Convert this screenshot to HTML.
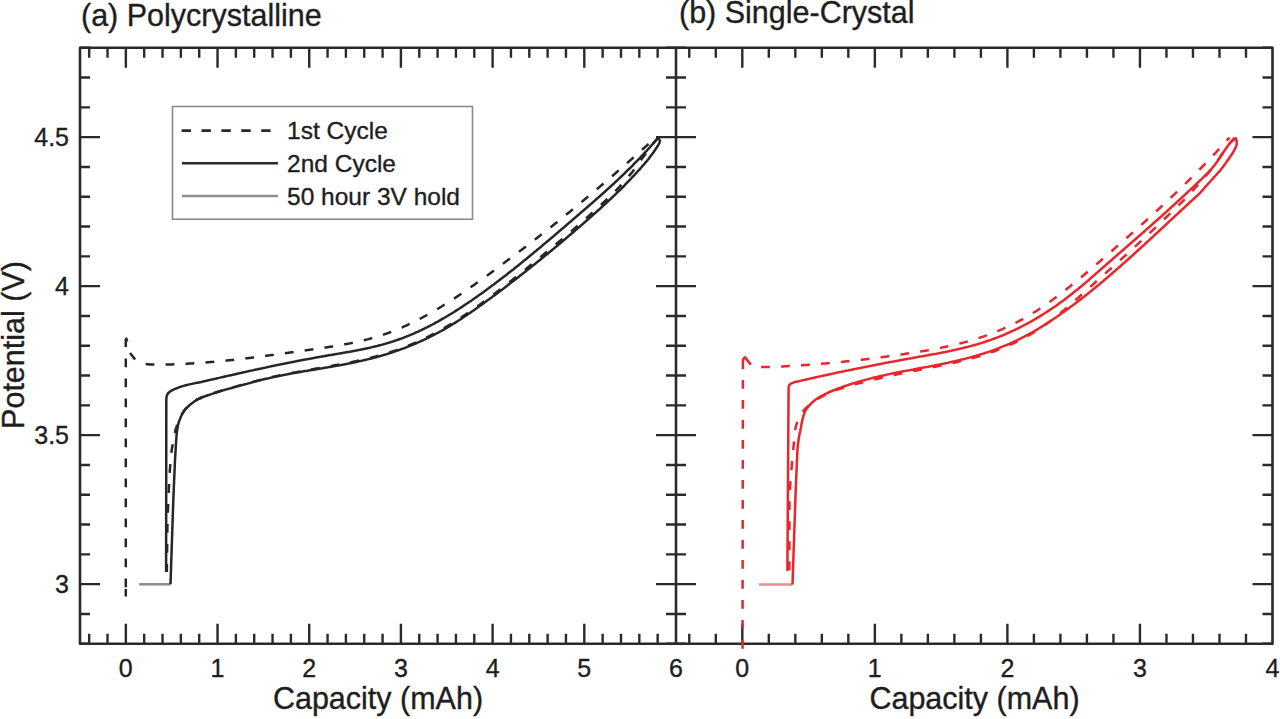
<!DOCTYPE html><html><head><meta charset="utf-8"><style>html,body{margin:0;padding:0;background:#fff;width:1280px;height:719px;overflow:hidden}svg{display:block}text{font-family:"Liberation Sans",sans-serif;fill:#1e1e1e;stroke:#1e1e1e;stroke-width:0.35px}</style></head><body>
<div id="wrap"><svg width="1280" height="719" viewBox="0 0 1280 719">
<path d="M80.0,643.75h10M666.0,643.75h20M1272.5,643.75h-10M80.0,613.95h10M666.0,613.95h20M1272.5,613.95h-10M80.0,584.15h20M656.0,584.15h40M1272.5,584.15h-20M80.0,554.35h10M666.0,554.35h20M1272.5,554.35h-10M80.0,524.55h10M666.0,524.55h20M1272.5,524.55h-10M80.0,494.75h10M666.0,494.75h20M1272.5,494.75h-10M80.0,464.95h10M666.0,464.95h20M1272.5,464.95h-10M80.0,435.15h20M656.0,435.15h40M1272.5,435.15h-20M80.0,405.35h10M666.0,405.35h20M1272.5,405.35h-10M80.0,375.55h10M666.0,375.55h20M1272.5,375.55h-10M80.0,345.75h10M666.0,345.75h20M1272.5,345.75h-10M80.0,315.95h10M666.0,315.95h20M1272.5,315.95h-10M80.0,286.15h20M656.0,286.15h40M1272.5,286.15h-20M80.0,256.35h10M666.0,256.35h20M1272.5,256.35h-10M80.0,226.55h10M666.0,226.55h20M1272.5,226.55h-10M80.0,196.75h10M666.0,196.75h20M1272.5,196.75h-10M80.0,166.95h10M666.0,166.95h20M1272.5,166.95h-10M80.0,137.15h20M656.0,137.15h40M1272.5,137.15h-20M80.0,107.35h10M666.0,107.35h20M1272.5,107.35h-10M80.0,77.55h10M666.0,77.55h20M1272.5,77.55h-10M80.0,47.75h10M666.0,47.75h20M1272.5,47.75h-10M89.17,643.75v-10M89.17,47.75v10M107.51,643.75v-10M107.51,47.75v10M125.85,643.75v-20M125.85,47.75v20M144.19,643.75v-10M144.19,47.75v10M162.53,643.75v-10M162.53,47.75v10M180.86,643.75v-10M180.86,47.75v10M199.20,643.75v-10M199.20,47.75v10M217.54,643.75v-20M217.54,47.75v20M235.88,643.75v-10M235.88,47.75v10M254.22,643.75v-10M254.22,47.75v10M272.55,643.75v-10M272.55,47.75v10M290.89,643.75v-10M290.89,47.75v10M309.23,643.75v-20M309.23,47.75v20M327.57,643.75v-10M327.57,47.75v10M345.91,643.75v-10M345.91,47.75v10M364.24,643.75v-10M364.24,47.75v10M382.58,643.75v-10M382.58,47.75v10M400.92,643.75v-20M400.92,47.75v20M419.26,643.75v-10M419.26,47.75v10M437.60,643.75v-10M437.60,47.75v10M455.93,643.75v-10M455.93,47.75v10M474.27,643.75v-10M474.27,47.75v10M492.61,643.75v-20M492.61,47.75v20M510.95,643.75v-10M510.95,47.75v10M529.29,643.75v-10M529.29,47.75v10M547.62,643.75v-10M547.62,47.75v10M565.96,643.75v-10M565.96,47.75v10M584.30,643.75v-20M584.30,47.75v20M602.64,643.75v-10M602.64,47.75v10M620.98,643.75v-10M620.98,47.75v10M639.31,643.75v-10M639.31,47.75v10M657.65,643.75v-10M657.65,47.75v10M689.28,643.75v-10M689.28,47.75v10M715.79,643.75v-10M715.79,47.75v10M742.30,643.75v-20M742.30,47.75v20M768.81,643.75v-10M768.81,47.75v10M795.32,643.75v-10M795.32,47.75v10M821.83,643.75v-10M821.83,47.75v10M848.34,643.75v-10M848.34,47.75v10M874.85,643.75v-20M874.85,47.75v20M901.36,643.75v-10M901.36,47.75v10M927.87,643.75v-10M927.87,47.75v10M954.38,643.75v-10M954.38,47.75v10M980.89,643.75v-10M980.89,47.75v10M1007.40,643.75v-20M1007.40,47.75v20M1033.91,643.75v-10M1033.91,47.75v10M1060.42,643.75v-10M1060.42,47.75v10M1086.93,643.75v-10M1086.93,47.75v10M1113.44,643.75v-10M1113.44,47.75v10M1139.95,643.75v-20M1139.95,47.75v20M1166.46,643.75v-10M1166.46,47.75v10M1192.97,643.75v-10M1192.97,47.75v10M1219.48,643.75v-10M1219.48,47.75v10M1245.99,643.75v-10M1245.99,47.75v10" stroke="#2a2a2a" stroke-width="2.4" fill="none"/>
<path d="M80.0,47.75H1272.5V643.75H80.0Z M676.0,47.75V643.75" stroke="#2a2a2a" stroke-width="2.6" fill="none" stroke-linejoin="round"/>
<text x="69" y="146.1" font-size="25" text-anchor="end">4.5</text>
<text x="69" y="295.1" font-size="25" text-anchor="end">4</text>
<text x="69" y="444.1" font-size="25" text-anchor="end">3.5</text>
<text x="69" y="593.1" font-size="25" text-anchor="end">3</text>
<text x="125.8" y="677" font-size="25" text-anchor="middle">0</text>
<text x="217.5" y="677" font-size="25" text-anchor="middle">1</text>
<text x="309.2" y="677" font-size="25" text-anchor="middle">2</text>
<text x="400.9" y="677" font-size="25" text-anchor="middle">3</text>
<text x="492.6" y="677" font-size="25" text-anchor="middle">4</text>
<text x="584.3" y="677" font-size="25" text-anchor="middle">5</text>
<text x="676.0" y="677" font-size="25" text-anchor="middle">6</text>
<text x="742.3" y="677" font-size="25" text-anchor="middle">0</text>
<text x="874.8" y="677" font-size="25" text-anchor="middle">1</text>
<text x="1007.4" y="677" font-size="25" text-anchor="middle">2</text>
<text x="1140.0" y="677" font-size="25" text-anchor="middle">3</text>
<text x="1272.5" y="677" font-size="25" text-anchor="middle">4</text>
<text x="378" y="709" font-size="30.5" text-anchor="middle">Capacity (mAh)</text>
<text x="974.5" y="709" font-size="30.5" text-anchor="middle">Capacity (mAh)</text>
<text transform="translate(23.5,345) rotate(-90)" font-size="30.5" text-anchor="middle">Potential (V)</text>
<text x="81" y="26" font-size="30.5">(a) Polycrystalline</text>
<text x="679" y="23" font-size="30.5">(b) Single-Crystal</text>
<rect x="172.5" y="106.5" width="300" height="112.75" fill="#fff" stroke="#8a8a8a" stroke-width="1.6"/>
<path d="M181.6,130.6H272" stroke="#282828" stroke-width="2.6" stroke-dasharray="9.4 10.5"/>
<path d="M182,163.2H278" stroke="#282828" stroke-width="2.6"/>
<path d="M182,196H278" stroke="#8f8f8f" stroke-width="2.6"/>
<text x="287" y="139" font-size="24.5">1st Cycle</text>
<text x="287" y="171.5" font-size="24.5">2nd Cycle</text>
<text x="287" y="204.5" font-size="24.5">50 hour 3V hold</text>
<g fill="none" stroke-linejoin="round" stroke-linecap="butt">
<path d="M139.2,584.3L170.5,584.3" stroke="#8c8c8c" stroke-width="2.5"/>
<path d="M658.3,137.5L656.9,139.1L655.5,140.7L654.0,142.5L652.9,144.0L651.7,145.5L650.4,147.2L649.2,148.9L648.0,150.5L647.0,151.9L645.9,153.3L644.9,154.7L643.8,156.2L642.8,157.6L641.7,159.0L641.5,159.4L640.7,160.5L640.0,161.6L639.2,162.6L638.5,163.7L637.7,164.7L637.0,165.8L636.2,166.8L635.5,167.8L634.7,168.8L634.0,169.8L633.2,170.8L632.5,171.7L631.7,172.7L630.7,173.9L629.7,175.1L628.7,176.4L627.7,177.6L626.7,178.7L625.7,179.9L624.7,181.0L623.7,182.2L622.7,183.3L621.7,184.4L620.7,185.5L619.7,186.5L618.7,187.6L617.7,188.6L616.7,189.7L615.7,190.7L614.7,191.7L613.7,192.7L612.7,193.7L611.7,194.7L610.7,195.7L609.7,196.6L608.7,197.6L607.7,198.6L606.7,199.5L605.7,200.5L604.7,201.4L603.7,202.3L602.7,203.3L601.7,204.2L600.7,205.1L599.7,206.0L598.7,207.0L597.7,207.9L596.7,208.8L595.7,209.7L594.7,210.6L593.7,211.5L592.7,212.4L591.7,213.3L590.7,214.2L589.7,215.1L588.7,216.0L587.7,216.9L586.7,217.8L585.7,218.7L584.7,219.6L583.7,220.4L582.7,221.3L581.7,222.2L580.7,223.1L579.7,223.9L578.7,224.8L577.7,225.7L576.7,226.6L575.7,227.4L574.7,228.3L573.7,229.2L572.7,230.0L571.7,230.9L570.7,231.7L569.7,232.6L568.7,233.4L567.7,234.3L566.7,235.1L565.7,236.0L564.7,236.8L563.7,237.7L562.7,238.5L561.7,239.4L560.7,240.2L559.7,241.1L558.7,241.9L557.7,242.8L556.7,243.6L555.7,244.4L554.7,245.3L553.7,246.1L552.7,246.9L551.7,247.8L550.7,248.6L549.7,249.4L548.7,250.3L547.7,251.1L546.7,251.9L545.7,252.8L544.7,253.6L543.7,254.4L542.7,255.2L541.7,256.1L540.7,256.9L539.7,257.7L538.7,258.5L537.7,259.4L536.7,260.2L535.7,261.0L534.7,261.8L533.7,262.6L532.7,263.5L531.7,264.3L530.7,265.1L529.7,265.9L528.7,266.7L527.7,267.5L526.7,268.4L525.7,269.2L524.7,270.0L523.7,270.8L522.7,271.6L521.7,272.4L520.7,273.2L519.7,274.0L518.7,274.8L517.7,275.6L516.7,276.4L515.7,277.2L514.7,278.0L513.7,278.8L512.7,279.6L511.7,280.4L510.7,281.2L509.7,282.0L508.7,282.8L507.7,283.6L506.7,284.4L505.7,285.2L504.7,285.9L503.7,286.7L502.7,287.5L501.7,288.3L500.7,289.0L499.7,289.8L498.7,290.6L497.7,291.3L496.7,292.1L495.7,292.9L494.7,293.6L493.7,294.4L492.7,295.1L491.7,295.9L490.7,296.6L489.7,297.4L488.7,298.1L487.7,298.9L486.7,299.6L485.7,300.4L484.7,301.1L483.7,301.8L482.7,302.5L481.7,303.3L480.7,304.0L479.7,304.7L478.7,305.4L477.7,306.1L476.7,306.8L475.7,307.6L474.7,308.3L473.7,309.0L472.7,309.7L471.7,310.3L470.7,311.0L469.7,311.7L468.7,312.4L467.7,313.1L466.7,313.8L465.7,314.4L464.7,315.1L463.7,315.8L462.5,316.6L461.2,317.4L460.0,318.2L458.7,319.0L457.5,319.8L456.2,320.6L455.0,321.4L453.7,322.2L452.5,323.0L451.2,323.8L450.0,324.5L448.7,325.3L447.5,326.0L446.2,326.8L445.0,327.5L443.7,328.2L442.5,329.0L441.2,329.7L440.0,330.4L438.7,331.1L437.5,331.8L436.2,332.5L435.0,333.1L433.7,333.8L432.5,334.5L431.2,335.1L430.0,335.8L428.7,336.4L427.5,337.0L426.2,337.7L425.0,338.3L423.7,338.9L422.5,339.5L421.2,340.1L420.0,340.7L418.7,341.2L417.5,341.8L416.2,342.3L415.0,342.9L413.7,343.4L412.5,344.0L411.2,344.5L410.0,345.0L408.7,345.5L407.5,346.0L406.2,346.5L405.0,347.0L403.7,347.5L402.5,347.9L401.2,348.4L400.0,348.8L398.7,349.3L397.5,349.7L396.2,350.2L395.0,350.6L393.7,351.0L392.5,351.4L391.2,351.8L390.0,352.2L388.7,352.6L387.5,353.0L386.2,353.4L385.0,353.8L383.7,354.2L382.5,354.5L381.2,354.9L380.0,355.2L378.7,355.6L377.5,355.9L376.2,356.3L375.0,356.6L373.7,356.9L372.5,357.3L371.2,357.6L370.0,357.9L368.7,358.2L367.5,358.5L366.2,358.8L365.0,359.1L363.7,359.4L362.5,359.7L361.2,360.0L360.0,360.3L358.7,360.6L357.5,360.8L356.2,361.1L355.0,361.4L353.7,361.6L352.5,361.9L351.2,362.2L350.0,362.4L348.7,362.7L347.5,362.9L346.2,363.2L345.0,363.4L343.7,363.7L342.5,363.9L341.2,364.1L340.0,364.4L338.7,364.6L337.5,364.9L336.2,365.1L335.0,365.3L333.7,365.5L332.5,365.8L331.2,366.0L330.0,366.2L328.7,366.4L327.5,366.7L326.2,366.9L325.0,367.1L323.7,367.3L322.5,367.5L321.2,367.8L320.0,368.0L318.7,368.2L317.5,368.4L316.2,368.6L315.0,368.8L313.7,369.1L312.5,369.3L311.2,369.5L310.0,369.7L308.7,369.9L307.5,370.2L306.2,370.4L305.0,370.6L303.7,370.8L302.5,371.0L301.2,371.3L300.0,371.5L298.7,371.7L297.5,371.9L296.2,372.2L295.0,372.4L293.7,372.6L292.5,372.9L291.2,373.1L290.0,373.3L288.7,373.6L287.5,373.8L286.2,374.1L285.0,374.3L283.7,374.6L282.5,374.8L281.2,375.1L280.0,375.3L278.7,375.6L277.5,375.9L276.2,376.1L275.0,376.4L273.7,376.7L272.5,377.0L271.2,377.2L270.0,377.5L268.7,377.8L267.5,378.1L266.2,378.4L265.0,378.7L263.7,379.0L262.5,379.3L261.2,379.6L260.0,380.0L258.7,380.3L257.5,380.6L256.2,381.0L255.0,381.3L253.7,381.6L252.5,382.0L251.2,382.3L250.0,382.7L248.4,383.1L246.8,383.6L245.2,384.0L243.6,384.4L242.0,384.8L240.3,385.3L238.7,385.7L237.1,386.1L235.5,386.6L233.9,387.0L232.3,387.4L230.8,387.9L229.3,388.3L227.8,388.7L226.4,389.1L225.0,389.5L223.1,390.1L221.3,390.6L219.5,391.2L217.8,391.7L216.1,392.3L214.5,392.8L212.9,393.3L211.4,393.8L210.0,394.3L207.8,395.0L205.8,395.7L203.9,396.4L202.0,397.2L200.2,398.0L198.4,398.8L196.7,399.7L195.0,400.7L193.4,401.7L191.8,402.9L190.4,404.0L189.0,405.2L186.9,407.2L185.0,409.5L184.0,411.0L182.9,412.6L181.9,414.4L180.9,416.2L180.0,418.0L179.3,419.6L178.5,421.2L177.9,422.9L177.2,424.5L176.7,426.3L176.1,428.0L175.6,429.6L175.2,431.3L174.9,433.0L174.5,434.8L174.2,436.5L173.9,438.3L173.5,440.0L171.7,450.0L170.0,468.0L168.9,488.0L167.5,520.0L166.8,572.0" stroke="#262626" stroke-width="2.5" stroke-dasharray="8.8 11.2"/>
<path d="M145.6,364.0L150.0,364.4L152.5,364.5L155.0,364.6L156.2,364.6L157.5,364.6L158.7,364.6L160.0,364.6L161.2,364.6L162.5,364.6L163.7,364.5L165.0,364.5L166.2,364.5L167.5,364.5L168.7,364.5L170.0,364.4L171.2,364.4L172.5,364.4L173.7,364.3L175.0,364.3L176.2,364.2L177.5,364.2L178.7,364.1L180.0,364.1L181.2,364.0L182.5,364.0L183.7,363.9L185.0,363.8L186.2,363.8L187.5,363.7L188.7,363.6L190.0,363.6L191.2,363.5L192.5,363.4L193.7,363.3L195.0,363.3L196.2,363.2L197.5,363.1L198.7,363.0L200.0,362.9L201.2,362.8L202.5,362.7L203.7,362.6L205.0,362.5L206.2,362.4L207.5,362.3L208.7,362.2L210.0,362.1L211.2,362.0L212.5,361.9L213.7,361.8L215.0,361.7L216.2,361.6L217.5,361.4L218.7,361.3L220.0,361.2L221.2,361.1L222.5,361.0L223.7,360.8L225.0,360.7L226.2,360.6L227.5,360.4L228.7,360.3L230.0,360.2L231.2,360.0L232.5,359.9L233.7,359.8L235.0,359.6L236.2,359.5L237.5,359.3L238.7,359.2L240.0,359.1L241.2,358.9L242.5,358.8L243.7,358.6L245.0,358.5L246.2,358.3L247.5,358.2L248.7,358.0L250.0,357.9L251.2,357.7L252.5,357.5L253.7,357.4L255.0,357.2L256.2,357.1L257.4,356.9L258.7,356.8L259.9,356.6L261.2,356.4L262.4,356.3L263.7,356.1L264.9,355.9L266.2,355.8L267.4,355.6L268.7,355.4L269.9,355.3L271.2,355.1L272.4,354.9L273.7,354.8L274.9,354.6L276.2,354.4L277.4,354.3L278.7,354.1L279.9,353.9L281.2,353.7L282.4,353.6L283.7,353.4L284.9,353.2L286.2,353.0L287.4,352.9L288.7,352.7L289.9,352.5L291.2,352.3L292.4,352.2L293.7,352.0L294.9,351.8L296.2,351.6L297.4,351.5L298.7,351.3L299.9,351.1L301.2,350.9L302.4,350.8L303.7,350.6L304.9,350.4L306.2,350.2L307.4,350.1L308.7,349.9L309.9,349.7L311.2,349.6L312.4,349.4L313.7,349.2L314.9,349.0L316.2,348.9L317.4,348.7L318.7,348.5L319.9,348.3L321.2,348.1L322.4,348.0L323.7,347.8L324.9,347.6L326.2,347.4L327.4,347.2L328.7,347.0L329.9,346.8L331.2,346.7L332.4,346.5L333.7,346.3L334.9,346.1L336.2,345.9L337.4,345.6L338.7,345.4L339.9,345.2L341.2,345.0L342.4,344.8L343.7,344.6L344.9,344.3L346.2,344.1L347.4,343.9L348.7,343.6L349.9,343.4L351.2,343.1L352.4,342.9L353.7,342.6L354.9,342.4L356.1,342.1L357.4,341.8L358.6,341.5L359.9,341.2L361.1,341.0L362.4,340.7L363.6,340.4L364.9,340.0L366.1,339.7L367.4,339.4L368.6,339.1L369.9,338.7L371.1,338.4L372.4,338.1L373.6,337.7L374.9,337.3L376.1,337.0L377.4,336.6L378.6,336.2L379.9,335.8L381.1,335.4L382.4,335.0L383.6,334.6L384.9,334.1L386.1,333.7L387.4,333.3L388.6,332.8L389.9,332.3L391.1,331.9L392.4,331.4L393.6,330.9L394.9,330.4L396.1,329.9L397.4,329.4L398.6,328.9L399.9,328.3L401.1,327.8L402.4,327.3L403.6,326.7L404.9,326.1L406.1,325.6L407.4,325.0L408.6,324.4L409.9,323.8L411.1,323.2L412.4,322.6L413.6,322.0L414.9,321.4L416.1,320.8L417.4,320.1L418.6,319.5L419.9,318.8L421.1,318.2L422.4,317.5L423.6,316.8L424.9,316.2L426.1,315.5L427.4,314.8L428.6,314.1L429.9,313.4L431.1,312.7L432.4,312.0L433.6,311.2L434.9,310.5L436.1,309.8L437.4,309.0L438.6,308.3L439.9,307.5L441.1,306.8L442.4,306.0L443.6,305.2L444.9,304.5L446.1,303.7L447.4,302.9L448.6,302.1L449.9,301.3L451.1,300.5L452.4,299.7L453.6,298.9L454.9,298.1L456.1,297.2L457.3,296.4L458.3,295.7L459.3,295.1L460.3,294.4L461.3,293.7L462.3,293.0L463.3,292.4L464.3,291.7L465.3,291.0L466.3,290.3L467.3,289.6L468.3,288.9L469.3,288.2L470.3,287.5L471.3,286.8L472.3,286.1L473.3,285.4L474.3,284.7L475.3,284.0L476.3,283.3L477.3,282.6L478.3,281.9L479.3,281.2L480.3,280.5L481.3,279.7L482.3,279.0L483.3,278.3L484.3,277.6L485.3,276.8L486.3,276.1L487.3,275.4L488.3,274.7L489.3,273.9L490.3,273.2L491.3,272.5L492.3,271.7L493.3,271.0L494.3,270.2L495.3,269.5L496.3,268.8L497.3,268.0L498.3,267.3L499.3,266.5L500.3,265.8L501.3,265.0L502.3,264.3L503.3,263.5L504.3,262.8L505.3,262.1L506.3,261.3L507.3,260.6L508.3,259.8L509.3,259.1L510.3,258.3L511.3,257.5L512.3,256.8L513.3,256.0L514.3,255.3L515.3,254.5L516.3,253.8L517.3,253.0L518.3,252.3L519.3,251.5L520.3,250.7L521.3,250.0L522.3,249.2L523.3,248.5L524.3,247.7L525.3,246.9L526.3,246.2L527.3,245.4L528.3,244.6L529.3,243.9L530.3,243.1L531.3,242.3L532.3,241.6L533.3,240.8L534.3,240.0L535.3,239.2L536.3,238.5L537.3,237.7L538.3,236.9L539.3,236.1L540.3,235.4L541.3,234.6L542.3,233.8L543.3,233.0L544.3,232.2L545.3,231.4L546.3,230.6L547.3,229.9L548.3,229.1L549.3,228.3L550.3,227.5L551.3,226.7L552.3,225.9L553.3,225.1L554.3,224.3L555.3,223.5L556.3,222.7L557.3,221.9L558.3,221.1L559.3,220.3L560.3,219.5L561.3,218.7L562.3,217.9L563.3,217.1L564.3,216.2L565.3,215.4L566.3,214.6L567.3,213.8L568.3,213.0L569.3,212.2L570.3,211.4L571.3,210.5L572.3,209.7L573.3,208.9L574.3,208.1L575.3,207.2L576.3,206.4L577.3,205.6L578.3,204.8L579.3,203.9L580.3,203.1L581.3,202.3L582.3,201.4L583.3,200.6L584.3,199.8L585.3,198.9L586.3,198.1L587.3,197.3L588.3,196.4L589.3,195.6L590.3,194.7L591.3,193.9L592.3,193.1L593.3,192.2L594.3,191.4L595.3,190.5L596.3,189.7L597.3,188.8L598.3,188.0L599.3,187.1L600.3,186.3L601.3,185.4L602.3,184.6L603.3,183.7L604.3,182.8L605.3,182.0L606.3,181.1L607.3,180.3L608.3,179.4L609.3,178.5L610.3,177.7L611.3,176.8L612.3,176.0L613.3,175.1L614.3,174.2L615.3,173.4L616.3,172.5L617.3,171.6L618.3,170.7L619.3,169.9L620.3,169.0L621.3,168.1L622.3,167.3L623.3,166.4L624.3,165.5L625.3,164.6L626.3,163.8L627.3,162.9L628.3,162.0L629.3,161.1L630.3,160.2L631.3,159.4L632.3,158.5L633.3,157.6L634.3,156.7L635.3,155.8L636.3,154.9L637.3,154.1L638.3,153.2L639.3,152.3L640.3,151.4L641.3,150.5L642.3,149.6L643.3,148.7L644.3,147.8L645.3,146.9L646.3,146.0L647.3,145.1L648.3,144.3L649.3,143.4L650.3,142.5L651.3,141.6L652.3,140.7L653.3,139.8L654.3,138.9L655.3,138.0L656.0,137.3" stroke="#262626" stroke-width="2.5" stroke-dasharray="8.8 11.2"/>
<path d="M125.8,358.4L125.8,597.0" stroke="#262626" stroke-width="2.5" stroke-dasharray="8.8 11.2"/>
<path d="M125.8,347.0L125.8,339.5L126.3,338.6L127.2,341.5 M130.0,353.0L135.2,359.6 M125.8,589.0L125.8,596.5" stroke="#262626" stroke-width="2.5"/>
<path d="M166.1,572.0L166.3,401.0L166.4,398.4L166.7,396.0L168.0,393.3L170.5,391.2L174.0,389.4L176.4,388.3L179.0,387.3L181.2,386.6L183.6,385.9L186.0,385.2L188.3,384.6L190.7,384.1L193.0,383.6L195.3,383.1L197.5,382.7L200.0,382.2L201.5,381.9L203.2,381.5L204.9,381.1L206.7,380.7L208.4,380.3L210.2,379.9L212.0,379.5L213.8,379.1L215.6,378.7L217.3,378.3L219.1,377.9L221.0,377.4L222.9,377.0L225.0,376.5L226.3,376.2L227.7,375.9L229.2,375.6L230.7,375.2L232.2,374.9L233.8,374.5L235.4,374.2L237.0,373.8L238.6,373.4L240.3,373.1L241.9,372.7L243.6,372.3L245.2,372.0L246.8,371.6L248.4,371.3L250.0,370.9L251.2,370.6L252.5,370.4L253.7,370.1L255.0,369.8L256.2,369.5L257.5,369.3L258.7,369.0L260.0,368.7L261.2,368.5L262.5,368.2L263.7,367.9L265.0,367.7L266.2,367.4L267.5,367.1L268.7,366.9L270.0,366.6L271.2,366.3L272.5,366.1L273.7,365.8L275.0,365.6L276.2,365.3L277.5,365.0L278.7,364.8L280.0,364.5L281.2,364.3L282.5,364.0L283.7,363.8L285.0,363.5L286.2,363.3L287.5,363.0L288.7,362.8L290.0,362.5L291.2,362.3L292.5,362.0L293.7,361.8L295.0,361.5L296.2,361.3L297.5,361.0L298.7,360.8L300.0,360.6L301.2,360.3L302.5,360.1L303.7,359.8L305.0,359.6L306.2,359.4L307.5,359.1L308.7,358.9L310.0,358.7L311.2,358.4L312.5,358.2L313.7,358.0L315.0,357.8L316.2,357.5L317.5,357.3L318.7,357.1L320.0,356.9L321.2,356.6L322.5,356.4L323.7,356.2L325.0,356.0L326.2,355.8L327.5,355.6L328.7,355.3L330.0,355.1L331.2,354.9L332.5,354.7L333.7,354.5L335.0,354.3L336.2,354.1L337.5,353.9L338.7,353.6L340.0,353.4L341.2,353.2L342.5,353.0L343.7,352.8L345.0,352.6L346.2,352.3L347.5,352.1L348.7,351.9L350.0,351.7L351.2,351.5L352.4,351.2L353.7,351.0L354.9,350.8L356.2,350.5L357.4,350.3L358.7,350.0L359.9,349.8L361.2,349.5L362.4,349.3L363.7,349.0L364.9,348.8L366.2,348.5L367.4,348.2L368.7,347.9L369.9,347.7L371.2,347.4L372.4,347.1L373.7,346.8L374.9,346.5L376.2,346.2L377.4,345.9L378.7,345.5L379.9,345.2L381.2,344.9L382.4,344.6L383.7,344.2L384.9,343.9L386.2,343.5L387.4,343.1L388.7,342.8L389.9,342.4L391.2,342.0L392.4,341.6L393.7,341.2L394.9,340.8L396.2,340.4L397.4,339.9L398.7,339.5L399.9,339.0L401.2,338.6L402.4,338.1L403.7,337.7L404.9,337.2L406.2,336.7L407.4,336.2L408.7,335.7L409.9,335.2L411.2,334.6L412.4,334.1L413.7,333.6L414.9,333.0L416.2,332.4L417.4,331.9L418.7,331.3L419.9,330.7L421.2,330.1L422.4,329.5L423.7,328.9L424.9,328.3L426.2,327.7L427.4,327.1L428.7,326.4L429.9,325.8L431.2,325.1L432.4,324.5L433.7,323.8L434.9,323.1L436.2,322.4L437.4,321.8L438.7,321.1L439.9,320.4L441.2,319.6L442.4,318.9L443.7,318.2L444.9,317.5L446.2,316.7L447.4,316.0L448.7,315.2L449.9,314.5L451.2,313.7L452.4,313.0L453.7,312.2L454.9,311.4L456.1,310.6L457.4,309.8L458.6,309.0L459.9,308.2L461.1,307.4L462.4,306.6L463.6,305.8L464.9,304.9L465.9,304.3L466.9,303.6L467.9,302.9L468.9,302.3L469.9,301.6L470.9,300.9L471.9,300.2L472.9,299.5L473.9,298.8L474.9,298.1L475.9,297.4L476.9,296.7L477.9,296.0L478.9,295.3L479.9,294.6L480.9,293.9L481.9,293.2L482.9,292.5L483.9,291.7L484.9,291.0L485.9,290.3L486.9,289.5L487.9,288.8L488.9,288.1L489.9,287.3L490.9,286.6L491.9,285.8L492.9,285.1L493.9,284.4L494.9,283.6L495.9,282.8L496.9,282.1L497.9,281.3L498.9,280.6L499.9,279.8L500.9,279.0L501.9,278.3L502.9,277.5L503.9,276.7L504.9,275.9L505.9,275.2L506.9,274.4L507.9,273.6L508.9,272.8L509.9,272.0L510.9,271.2L511.9,270.4L512.9,269.7L513.9,268.9L514.9,268.1L515.9,267.3L516.9,266.5L517.9,265.7L518.9,264.9L519.9,264.1L520.9,263.2L521.9,262.4L522.9,261.6L523.9,260.8L524.9,260.0L525.9,259.2L526.9,258.4L527.9,257.6L528.9,256.7L529.9,255.9L530.9,255.1L531.9,254.3L532.9,253.5L533.9,252.6L534.9,251.8L535.9,251.0L536.9,250.1L537.9,249.3L538.9,248.5L539.9,247.7L540.9,246.8L541.9,246.0L542.9,245.1L543.9,244.3L544.9,243.5L545.9,242.6L546.9,241.8L547.9,240.9L548.9,240.1L549.9,239.3L550.9,238.4L551.9,237.6L552.9,236.7L553.9,235.9L554.9,235.0L555.9,234.2L556.8,233.3L557.8,232.5L558.8,231.6L559.8,230.8L560.8,229.9L561.8,229.1L562.8,228.2L563.8,227.4L564.8,226.5L565.8,225.7L566.8,224.8L567.8,223.9L568.8,223.1L569.8,222.2L570.8,221.4L571.8,220.5L572.8,219.6L573.8,218.8L574.8,217.9L575.8,217.1L576.8,216.2L577.8,215.3L578.8,214.5L579.8,213.6L580.8,212.8L581.8,211.9L582.8,211.0L583.8,210.2L584.8,209.3L585.8,208.4L586.8,207.6L587.8,206.7L588.8,205.8L589.8,205.0L590.8,204.1L591.8,203.2L592.8,202.4L593.8,201.5L594.8,200.6L595.8,199.7L596.8,198.8L597.8,198.0L598.8,197.1L599.8,196.2L600.8,195.3L601.8,194.4L602.8,193.5L603.8,192.6L604.8,191.7L605.8,190.8L606.8,189.9L607.8,189.0L608.8,188.1L609.8,187.2L610.8,186.3L611.8,185.4L612.8,184.5L613.8,183.6L614.8,182.6L615.8,181.7L616.8,180.8L617.8,179.8L618.8,178.9L619.8,177.9L620.8,177.0L621.8,176.0L622.8,175.1L623.8,174.1L624.8,173.2L625.8,172.2L626.8,171.2L627.8,170.2L628.8,169.2L629.8,168.3L630.8,167.3L631.8,166.3L632.8,165.3L633.8,164.2L634.8,163.2L635.8,162.2L636.8,161.2L637.8,160.1L638.8,159.1L639.8,158.1L640.8,157.0L641.8,156.0L642.8,154.9L643.8,153.8L644.8,152.7L645.8,151.7L646.8,150.6L647.8,149.5L648.8,148.4L649.8,147.3L650.8,146.1L651.8,145.0L652.8,143.9L653.8,142.7L654.8,141.6L655.8,140.4L656.8,139.3L657.8,138.1L658.3,137.5" stroke="#262626" stroke-width="2.5"/>
<path d="M658.3,137.5L660.0,140.8L659.5,142.8L658.2,145.1L656.7,147.5L655.9,148.8L654.9,150.2L653.9,151.7L652.8,153.2L651.6,154.7L650.5,156.2L649.4,157.7L648.3,159.2L647.6,160.1L646.6,161.3L645.6,162.4L644.6,163.6L643.6,164.8L642.6,165.9L641.6,167.0L640.6,168.2L639.6,169.3L638.6,170.4L637.6,171.5L636.6,172.6L635.6,173.7L634.6,174.8L633.6,175.9L632.6,176.9L631.6,178.0L630.6,179.1L629.6,180.1L628.6,181.2L627.6,182.2L626.6,183.2L625.6,184.2L624.6,185.3L623.6,186.3L622.6,187.3L621.6,188.3L620.6,189.3L619.6,190.3L618.6,191.2L617.6,192.2L616.6,193.2L615.6,194.2L614.6,195.1L613.6,196.1L612.6,197.0L611.6,198.0L610.6,198.9L609.6,199.9L608.6,200.8L607.6,201.7L606.6,202.7L605.6,203.6L604.6,204.5L603.6,205.4L602.6,206.3L601.6,207.2L600.6,208.2L599.6,209.1L598.6,210.0L597.6,210.9L596.6,211.8L595.6,212.6L594.6,213.5L593.6,214.4L592.6,215.3L591.6,216.2L590.6,217.1L589.6,218.0L588.6,218.8L587.6,219.7L586.6,220.6L585.6,221.5L584.6,222.3L583.6,223.2L582.6,224.1L581.6,225.0L580.6,225.8L579.6,226.7L578.6,227.6L577.6,228.4L576.6,229.3L575.6,230.1L574.6,231.0L573.6,231.9L572.6,232.7L571.6,233.6L570.6,234.4L569.6,235.3L568.6,236.1L567.6,237.0L566.6,237.8L565.6,238.7L564.6,239.5L563.6,240.4L562.6,241.2L561.6,242.1L560.6,242.9L559.6,243.7L558.6,244.6L557.6,245.4L556.6,246.2L555.6,247.1L554.6,247.9L553.6,248.7L552.6,249.6L551.6,250.4L550.6,251.2L549.6,252.0L548.6,252.9L547.6,253.7L546.6,254.5L545.6,255.3L544.6,256.1L543.6,257.0L542.6,257.8L541.6,258.6L540.6,259.4L539.6,260.2L538.6,261.0L537.6,261.8L536.6,262.6L535.6,263.4L534.6,264.2L533.6,265.0L532.6,265.8L531.6,266.6L530.6,267.4L529.6,268.2L528.6,269.0L527.6,269.8L526.6,270.6L525.6,271.4L524.6,272.2L523.6,273.0L522.6,273.8L521.6,274.5L520.6,275.3L519.6,276.1L518.6,276.9L517.6,277.7L516.6,278.4L515.6,279.2L514.6,280.0L513.6,280.8L512.6,281.5L511.6,282.3L510.6,283.1L509.6,283.8L508.6,284.6L507.6,285.4L506.6,286.1L505.6,286.9L504.6,287.7L503.6,288.4L502.6,289.2L501.6,289.9L500.6,290.7L499.6,291.4L498.6,292.2L497.6,292.9L496.6,293.7L495.6,294.4L494.6,295.2L493.6,295.9L492.6,296.6L491.6,297.4L490.6,298.1L489.6,298.9L488.6,299.6L487.6,300.3L486.6,301.1L485.6,301.8L484.6,302.5L483.6,303.2L482.6,304.0L481.6,304.7L480.6,305.4L479.6,306.1L478.6,306.8L477.6,307.6L476.6,308.3L475.6,309.0L474.6,309.7L473.6,310.4L472.6,311.1L471.6,311.8L470.6,312.5L469.6,313.2L468.6,313.8L467.6,314.5L466.6,315.2L465.6,315.9L464.6,316.5L463.6,317.2L462.4,318.0L461.1,318.9L459.9,319.7L458.6,320.5L457.4,321.3L456.1,322.1L454.9,322.9L453.6,323.6L452.4,324.4L451.1,325.2L449.9,325.9L448.7,326.7L447.4,327.4L446.2,328.1L444.9,328.9L443.7,329.6L442.4,330.3L441.2,331.0L439.9,331.7L438.7,332.3L437.4,333.0L436.2,333.7L434.9,334.3L433.7,335.0L432.4,335.6L431.2,336.2L429.9,336.9L428.7,337.5L427.4,338.1L426.2,338.7L424.9,339.3L423.7,339.9L422.4,340.5L421.2,341.0L419.9,341.6L418.7,342.2L417.4,342.7L416.2,343.3L414.9,343.8L413.7,344.3L412.4,344.8L411.2,345.4L409.9,345.9L408.7,346.4L407.4,346.9L406.2,347.4L404.9,347.8L403.7,348.3L402.4,348.8L401.2,349.2L399.9,349.7L398.7,350.1L397.4,350.6L396.2,351.0L394.9,351.4L393.7,351.9L392.4,352.3L391.2,352.7L389.9,353.1L388.7,353.5L387.4,353.9L386.2,354.3L384.9,354.7L383.7,355.0L382.4,355.4L381.2,355.8L379.9,356.1L378.7,356.5L377.4,356.8L376.2,357.2L374.9,357.5L373.7,357.8L372.4,358.2L371.2,358.5L369.9,358.8L368.7,359.1L367.4,359.4L366.2,359.7L364.9,360.0L363.7,360.3L362.4,360.6L361.2,360.9L359.9,361.1L358.7,361.4L357.4,361.7L356.2,362.0L354.9,362.2L353.7,362.5L352.4,362.7L351.2,363.0L349.9,363.3L348.7,363.5L347.5,363.7L346.2,364.0L345.0,364.2L343.7,364.5L342.5,364.7L341.2,364.9L340.0,365.2L338.7,365.4L337.5,365.6L336.2,365.8L335.0,366.1L333.7,366.3L332.5,366.5L331.2,366.7L330.0,366.9L328.7,367.1L327.5,367.4L326.2,367.6L325.0,367.8L323.7,368.0L322.5,368.2L321.2,368.4L320.0,368.6L318.7,368.8L317.5,369.0L316.2,369.2L315.0,369.5L313.7,369.7L312.5,369.9L311.2,370.1L310.0,370.3L308.7,370.5L307.5,370.7L306.2,370.9L305.0,371.1L303.7,371.3L302.5,371.6L301.2,371.8L300.0,372.0L298.7,372.2L297.5,372.4L296.2,372.6L295.0,372.9L293.7,373.1L292.5,373.3L291.2,373.6L290.0,373.8L288.7,374.0L287.5,374.3L286.2,374.5L285.0,374.7L283.7,375.0L282.5,375.2L281.2,375.5L280.0,375.7L278.7,376.0L277.5,376.2L276.2,376.5L275.0,376.8L273.7,377.0L272.5,377.3L271.2,377.6L270.0,377.9L268.7,378.2L267.5,378.4L266.2,378.7L265.0,379.0L263.7,379.3L262.5,379.6L261.2,380.0L260.0,380.3L258.7,380.6L257.5,380.9L256.2,381.3L255.0,381.6L253.7,381.9L252.5,382.3L251.2,382.6L250.0,383.0L248.4,383.4L246.8,383.9L245.2,384.3L243.6,384.7L242.0,385.1L240.3,385.6L238.7,386.0L237.1,386.4L235.5,386.9L233.9,387.3L232.3,387.7L230.8,388.2L229.3,388.6L227.8,389.0L226.4,389.4L225.0,389.8L223.1,390.4L221.3,390.9L219.5,391.5L217.8,392.0L216.1,392.6L214.5,393.1L212.9,393.6L211.4,394.1L210.0,394.6L207.8,395.3L205.8,396.0L203.9,396.7L202.0,397.5L200.2,398.3L198.4,399.1L196.7,400.0L195.0,401.0L193.0,402.4L191.0,403.9L189.2,405.5L187.5,407.1L185.8,408.8L184.3,410.6L183.0,412.6L181.9,414.6L180.9,416.8L180.2,418.5L179.5,420.3L178.8,422.1L178.3,424.0L177.8,426.0L177.5,428.0L177.2,430.0L176.9,432.0L176.7,434.0L176.5,436.0L176.4,438.0L176.2,440.0L175.0,460.0L173.3,500.0L170.5,584.3" stroke="#262626" stroke-width="2.5"/>
</g>
<g fill="none" stroke-linejoin="round" stroke-linecap="butt">
<path d="M759.0,584.5L792.5,584.5" stroke="#f08a8c" stroke-width="2.5"/>
<path d="M1236.0,138.5L1234.3,139.6L1232.7,140.6L1231.0,142.0L1229.8,143.2L1228.6,144.6L1227.5,146.2L1226.3,147.8L1225.1,149.4L1224.0,151.0L1223.0,152.5L1222.0,154.0L1221.0,155.5L1220.0,157.0L1219.0,158.5L1218.0,160.0L1217.0,161.5L1215.9,163.0L1214.8,164.5L1213.7,166.0L1212.6,167.5L1211.5,169.0L1210.3,170.5L1209.1,172.0L1207.9,173.5L1206.6,175.0L1205.3,176.5L1204.0,178.0L1202.8,179.4L1201.5,180.8L1200.2,182.3L1198.9,183.7L1197.6,185.2L1196.3,186.6L1195.0,188.0L1193.8,189.3L1192.7,190.6L1191.6,191.9L1190.4,193.2L1189.3,194.5L1188.2,195.8L1187.0,197.0L1185.7,198.4L1184.3,199.7L1183.0,201.0L1181.6,202.3L1180.3,203.6L1178.9,204.9L1177.9,205.9L1176.9,206.8L1175.9,207.8L1174.9,208.8L1173.9,209.8L1172.9,210.7L1171.9,211.7L1170.9,212.7L1169.9,213.6L1168.9,214.6L1167.9,215.6L1166.9,216.5L1165.9,217.5L1164.9,218.5L1163.9,219.4L1162.9,220.4L1161.9,221.3L1160.9,222.3L1159.9,223.3L1158.9,224.2L1157.9,225.2L1156.9,226.1L1155.9,227.1L1154.9,228.1L1153.9,229.0L1152.9,230.0L1151.9,230.9L1150.9,231.9L1149.9,232.8L1148.9,233.7L1147.9,234.7L1146.9,235.6L1145.9,236.6L1144.9,237.5L1143.9,238.4L1142.9,239.4L1141.9,240.3L1140.9,241.2L1139.9,242.2L1138.9,243.1L1137.9,244.0L1136.9,244.9L1135.9,245.9L1134.9,246.8L1133.9,247.7L1132.9,248.6L1131.9,249.5L1130.9,250.5L1129.9,251.4L1128.9,252.3L1127.9,253.2L1126.9,254.1L1125.9,255.0L1124.9,255.9L1123.9,256.8L1122.9,257.7L1121.9,258.6L1120.9,259.5L1119.9,260.4L1118.9,261.3L1117.9,262.2L1116.9,263.1L1115.9,264.0L1114.9,264.9L1113.9,265.8L1112.9,266.7L1111.9,267.6L1110.9,268.5L1109.9,269.4L1108.9,270.3L1107.9,271.1L1106.9,272.0L1105.9,272.9L1104.9,273.8L1103.9,274.7L1102.9,275.6L1101.9,276.5L1100.9,277.4L1099.9,278.3L1098.9,279.2L1097.9,280.0L1096.9,280.9L1095.9,281.8L1094.9,282.7L1093.9,283.6L1092.9,284.5L1091.9,285.4L1090.9,286.3L1089.9,287.2L1088.9,288.1L1087.9,289.0L1086.9,289.9L1085.9,290.8L1084.9,291.7L1083.9,292.6L1082.9,293.5L1081.9,294.4L1080.9,295.3L1079.9,296.2L1078.9,297.1L1077.9,298.0L1076.9,298.9L1075.9,299.8L1074.9,300.6L1073.9,301.5L1072.9,302.4L1071.9,303.3L1070.9,304.2L1069.9,305.0L1068.9,305.9L1067.9,306.8L1066.9,307.6L1065.9,308.5L1064.9,309.3L1063.9,310.2L1062.9,311.0L1061.9,311.8L1060.9,312.7L1059.9,313.5L1058.9,314.3L1057.9,315.1L1056.9,315.9L1055.9,316.7L1054.9,317.5L1053.9,318.3L1052.9,319.1L1051.9,319.8L1050.9,320.6L1049.9,321.4L1048.9,322.1L1047.9,322.8L1046.9,323.6L1045.9,324.3L1044.9,325.0L1043.9,325.7L1042.9,326.4L1041.9,327.1L1040.9,327.8L1039.9,328.4L1038.7,329.2L1037.4,330.1L1036.2,330.8L1034.9,331.6L1033.7,332.4L1032.4,333.2L1031.2,333.9L1029.9,334.7L1028.7,335.4L1027.4,336.1L1026.2,336.8L1024.9,337.5L1023.7,338.2L1022.4,338.8L1021.2,339.5L1019.9,340.1L1018.7,340.8L1017.4,341.4L1016.2,342.0L1014.9,342.6L1013.7,343.2L1012.4,343.8L1011.2,344.4L1009.9,344.9L1008.7,345.5L1007.5,346.0L1006.2,346.6L1005.0,347.1L1003.7,347.6L1002.5,348.1L1001.2,348.6L1000.0,349.1L998.7,349.6L997.5,350.1L996.2,350.5L995.0,351.0L993.7,351.5L992.5,351.9L991.2,352.3L990.0,352.8L988.7,353.2L987.5,353.6L986.2,354.0L985.0,354.4L983.7,354.8L982.5,355.2L981.2,355.6L980.0,356.0L978.7,356.3L977.5,356.7L976.2,357.1L975.0,357.4L973.7,357.8L972.5,358.1L971.2,358.5L970.0,358.8L968.7,359.1L967.5,359.4L966.2,359.8L965.0,360.1L963.7,360.4L962.5,360.7L961.2,361.0L960.0,361.3L958.7,361.6L957.5,361.9L956.2,362.2L955.0,362.5L953.7,362.8L952.5,363.0L951.2,363.3L950.0,363.6L948.7,363.9L947.5,364.1L946.2,364.4L945.0,364.7L943.7,364.9L942.5,365.2L941.2,365.4L940.0,365.7L938.7,366.0L937.5,366.2L936.2,366.5L935.0,366.7L933.7,367.0L932.5,367.2L931.2,367.5L930.0,367.8L928.7,368.0L927.5,368.3L926.2,368.5L925.0,368.8L923.7,369.0L922.5,369.3L921.2,369.5L920.0,369.8L918.7,370.0L917.5,370.3L916.2,370.5L915.0,370.8L913.7,371.0L912.5,371.3L911.2,371.5L910.0,371.8L908.7,372.0L907.5,372.3L906.2,372.5L905.0,372.8L903.7,373.1L902.5,373.3L901.2,373.6L900.0,373.8L898.7,374.1L897.5,374.4L896.2,374.6L895.0,374.9L893.7,375.2L892.5,375.4L891.2,375.7L890.0,376.0L888.7,376.2L887.5,376.5L886.2,376.8L885.0,377.1L883.7,377.3L882.5,377.6L881.2,377.9L880.0,378.2L878.7,378.5L877.5,378.8L876.2,379.1L875.0,379.4L873.7,379.6L872.5,379.9L871.2,380.2L870.0,380.6L868.7,380.9L867.5,381.2L866.2,381.5L865.0,381.8L863.7,382.1L862.5,382.4L861.2,382.8L860.0,383.1L858.7,383.4L857.5,383.8L856.2,384.1L855.0,384.4L853.7,384.8L852.5,385.1L851.2,385.5L850.0,385.8L848.7,386.2L847.5,386.5L846.2,386.9L845.0,387.3L843.7,387.7L842.5,388.0L841.2,388.4L840.0,388.8L838.2,389.4L836.4,390.0L834.7,390.6L832.9,391.3L831.2,391.9L829.5,392.6L827.7,393.4L826.0,394.3L824.4,395.2L822.8,396.1L821.2,397.0L819.5,398.0L817.8,399.0L816.2,400.0L814.5,401.2L813.1,402.2L811.6,403.3L810.1,404.5L808.6,405.7L807.2,406.9L806.0,408.0L804.3,409.7L802.9,411.4L801.6,413.2L800.6,414.8L799.7,416.5L798.8,418.2L798.0,420.0L797.3,421.8L796.7,423.6L796.1,425.6L795.6,427.8L795.3,429.2L795.1,430.6L794.9,432.2L794.7,433.8L794.6,435.5L794.4,437.2L794.2,439.0L794.1,440.8L793.9,442.5L793.8,444.2L793.6,445.9L790.5,480.0L789.5,500.0L789.3,571.0" stroke="#e8262b" stroke-width="2.5" stroke-dasharray="8.8 11.2"/>
<path d="M761.1,367.1L765.7,367.1L766.9,367.1L768.2,367.0L769.4,367.0L770.7,366.9L771.9,366.9L773.2,366.8L774.4,366.8L775.7,366.7L776.9,366.7L778.2,366.6L779.4,366.6L780.7,366.5L781.9,366.4L783.2,366.4L784.4,366.3L785.7,366.2L786.9,366.2L788.2,366.1L789.4,366.0L790.7,366.0L791.9,365.9L793.2,365.8L794.4,365.7L795.7,365.7L796.9,365.6L798.2,365.5L799.4,365.4L800.7,365.3L801.9,365.3L803.2,365.2L804.4,365.1L805.7,365.0L806.9,364.9L808.2,364.8L809.4,364.7L810.7,364.6L811.9,364.5L813.2,364.4L814.4,364.3L815.7,364.2L816.9,364.1L818.2,364.0L819.4,363.9L820.7,363.8L821.9,363.7L823.2,363.6L824.4,363.5L825.7,363.4L826.9,363.3L828.2,363.2L829.4,363.1L830.7,363.0L831.9,362.8L833.2,362.7L834.4,362.6L835.7,362.5L836.9,362.4L838.2,362.2L839.4,362.1L840.7,362.0L841.9,361.9L843.2,361.7L844.4,361.6L845.7,361.5L846.9,361.3L848.2,361.2L849.4,361.1L850.7,360.9L851.9,360.8L853.2,360.7L854.4,360.5L855.7,360.4L856.9,360.2L858.2,360.1L859.4,360.0L860.7,359.8L861.9,359.7L863.2,359.5L864.4,359.4L865.7,359.2L866.9,359.1L868.2,358.9L869.4,358.8L870.7,358.6L871.9,358.4L873.2,358.3L874.4,358.1L875.7,358.0L876.9,357.8L878.2,357.7L879.4,357.5L880.7,357.3L881.9,357.2L883.1,357.0L884.4,356.8L885.6,356.7L886.9,356.5L888.1,356.3L889.4,356.2L890.6,356.0L891.9,355.8L893.1,355.6L894.4,355.5L895.6,355.3L896.9,355.1L898.1,354.9L899.4,354.7L900.6,354.6L901.9,354.4L903.1,354.2L904.4,354.0L905.6,353.8L906.9,353.6L908.1,353.5L909.4,353.3L910.6,353.1L911.9,352.9L913.1,352.7L914.4,352.5L915.6,352.3L916.9,352.1L918.1,351.9L919.4,351.7L920.6,351.5L921.9,351.3L923.1,351.1L924.4,350.9L925.6,350.7L926.9,350.4L928.1,350.2L929.4,350.0L930.6,349.8L931.9,349.5L933.1,349.3L934.4,349.1L935.6,348.8L936.9,348.6L938.1,348.4L939.4,348.1L940.6,347.9L941.9,347.6L943.1,347.3L944.4,347.1L945.6,346.8L946.9,346.6L948.1,346.3L949.4,346.0L950.6,345.7L951.9,345.4L953.1,345.1L954.4,344.8L955.6,344.5L956.9,344.2L958.1,343.9L959.4,343.6L960.6,343.3L961.9,343.0L963.1,342.6L964.4,342.3L965.6,342.0L966.9,341.6L968.1,341.3L969.4,340.9L970.6,340.5L971.9,340.2L973.1,339.8L974.4,339.4L975.6,339.0L976.9,338.6L978.1,338.2L979.4,337.8L980.6,337.4L981.9,337.0L983.1,336.6L984.4,336.1L985.6,335.7L986.9,335.2L988.1,334.8L989.4,334.3L990.6,333.9L991.9,333.4L993.1,332.9L994.4,332.4L995.6,331.9L996.9,331.4L998.1,330.9L999.3,330.4L1000.6,329.8L1001.8,329.3L1003.1,328.8L1004.3,328.2L1005.6,327.6L1006.8,327.1L1008.1,326.5L1009.3,325.9L1010.6,325.3L1011.8,324.7L1013.1,324.1L1014.3,323.5L1015.6,322.8L1016.8,322.2L1018.1,321.6L1019.3,320.9L1020.6,320.2L1021.8,319.6L1023.1,318.9L1024.3,318.2L1025.6,317.5L1026.8,316.8L1028.1,316.0L1029.3,315.3L1030.6,314.5L1031.8,313.8L1033.1,313.0L1034.3,312.2L1035.6,311.5L1036.8,310.7L1038.1,309.9L1039.3,309.0L1040.6,308.2L1041.6,307.5L1042.6,306.9L1043.6,306.2L1044.6,305.5L1045.6,304.8L1046.6,304.1L1047.6,303.4L1048.6,302.7L1049.6,302.0L1050.6,301.3L1051.6,300.5L1052.6,299.8L1053.6,299.1L1054.6,298.3L1055.6,297.6L1056.6,296.8L1057.6,296.1L1058.6,295.3L1059.6,294.6L1060.6,293.8L1061.6,293.0L1062.6,292.3L1063.6,291.5L1064.6,290.7L1065.6,289.9L1066.6,289.1L1067.6,288.3L1068.6,287.5L1069.6,286.7L1070.6,285.9L1071.6,285.1L1072.6,284.3L1073.6,283.5L1074.6,282.7L1075.6,281.9L1076.6,281.0L1077.6,280.2L1078.6,279.4L1079.6,278.6L1080.6,277.7L1081.6,276.9L1082.6,276.0L1083.6,275.2L1084.6,274.4L1085.6,273.5L1086.6,272.7L1087.6,271.8L1088.6,271.0L1089.6,270.1L1090.6,269.3L1091.6,268.4L1092.6,267.6L1093.6,266.7L1094.6,265.9L1095.6,265.0L1096.6,264.1L1097.6,263.3L1098.6,262.4L1099.6,261.6L1100.6,260.7L1101.6,259.8L1102.6,259.0L1103.6,258.1L1104.6,257.3L1105.6,256.4L1106.6,255.5L1107.6,254.7L1108.6,253.8L1109.6,252.9L1110.6,252.0L1111.6,251.2L1112.6,250.3L1113.5,249.4L1114.5,248.6L1115.5,247.7L1116.5,246.8L1117.5,245.9L1118.5,245.1L1119.5,244.2L1120.5,243.3L1121.5,242.4L1122.5,241.6L1123.5,240.7L1124.5,239.8L1125.5,238.9L1126.5,238.0L1127.5,237.2L1128.5,236.3L1129.5,235.4L1130.5,234.5L1131.5,233.6L1132.5,232.7L1133.5,231.8L1134.5,230.9L1135.5,230.0L1136.5,229.2L1137.5,228.3L1138.5,227.4L1139.5,226.5L1140.5,225.6L1141.5,224.7L1142.5,223.8L1143.5,222.9L1144.5,222.0L1145.5,221.1L1146.5,220.2L1147.5,219.2L1148.5,218.3L1149.5,217.4L1150.5,216.5L1151.5,215.6L1152.5,214.7L1153.5,213.8L1154.5,212.9L1155.5,211.9L1156.5,211.0L1157.5,210.1L1158.5,209.2L1159.5,208.3L1160.5,207.3L1161.5,206.4L1162.5,205.5L1163.5,204.5L1164.5,203.6L1165.5,202.7L1166.5,201.7L1167.5,200.8L1168.5,199.9L1169.5,198.9L1170.5,198.0L1171.5,197.0L1172.5,196.1L1173.5,195.1L1174.5,194.2L1175.5,193.2L1176.5,192.3L1177.5,191.3L1178.5,190.3L1179.5,189.4L1180.5,188.4L1181.5,187.4L1182.5,186.5L1183.5,185.5L1184.5,184.5L1185.5,183.5L1186.5,182.6L1187.5,181.6L1188.5,180.6L1189.5,179.6L1190.5,178.6L1191.5,177.6L1192.5,176.6L1193.5,175.6L1194.5,174.6L1195.5,173.6L1196.5,172.6L1197.5,171.6L1198.5,170.6L1199.5,169.5L1200.5,168.5L1201.5,167.5L1202.5,166.5L1203.5,165.5L1204.5,164.4L1205.5,163.4L1206.5,162.3L1207.5,161.3L1208.5,160.3L1209.5,159.2L1210.5,158.2L1211.5,157.1L1212.5,156.0L1213.5,155.0L1214.5,153.9L1215.5,152.8L1216.5,151.8L1217.5,150.7L1218.5,149.6L1219.5,148.5L1220.5,147.4L1221.5,146.4L1222.5,145.3L1223.5,144.2L1224.5,143.1L1225.5,142.0L1226.5,140.9L1227.5,139.7L1228.5,138.6L1229.5,137.5" stroke="#e8262b" stroke-width="2.5" stroke-dasharray="8.8 11.2"/>
<path d="M742.9,380.0L742.5,651.0" stroke="#e8262b" stroke-width="2.5" stroke-dasharray="8.8 11.2"/>
<path d="M742.9,369.3L742.9,360.5L743.8,358.2L745.1,357.4L750.9,364.7" stroke="#e8262b" stroke-width="2.5"/>
<path d="M787.4,571.0L788.6,387.5L789.3,385.0L790.8,383.6L794.0,382.3L796.4,381.7L798.9,381.2L800.1,380.9L801.4,380.6L802.6,380.3L803.9,380.0L805.1,379.8L806.4,379.5L807.6,379.2L808.9,378.9L810.1,378.6L811.4,378.3L812.6,378.0L813.9,377.8L815.1,377.5L816.4,377.2L817.6,376.9L818.9,376.6L820.1,376.4L821.4,376.1L822.6,375.8L823.9,375.5L825.1,375.3L826.4,375.0L827.6,374.7L828.9,374.5L830.1,374.2L831.4,373.9L832.6,373.6L833.9,373.4L835.1,373.1L836.4,372.8L837.6,372.6L838.9,372.3L840.1,372.1L841.4,371.8L842.6,371.5L843.9,371.3L845.1,371.0L846.4,370.7L847.6,370.5L848.9,370.2L850.1,370.0L851.4,369.7L852.6,369.5L853.9,369.2L855.1,368.9L856.4,368.7L857.6,368.4L858.9,368.2L860.1,367.9L861.4,367.7L862.6,367.4L863.9,367.2L865.1,366.9L866.4,366.7L867.6,366.4L868.9,366.2L870.1,365.9L871.4,365.7L872.6,365.5L873.9,365.2L875.1,365.0L876.4,364.7L877.6,364.5L878.9,364.2L880.1,364.0L881.4,363.8L882.6,363.5L883.9,363.3L885.1,363.0L886.4,362.8L887.6,362.6L888.9,362.3L890.1,362.1L891.4,361.9L892.6,361.6L893.9,361.4L895.1,361.2L896.4,360.9L897.6,360.7L898.9,360.5L900.1,360.2L901.4,360.0L902.6,359.8L903.9,359.5L905.1,359.3L906.4,359.1L907.6,358.9L908.9,358.6L910.1,358.4L911.4,358.2L912.6,357.9L913.9,357.7L915.1,357.5L916.4,357.3L917.6,357.1L918.9,356.8L920.1,356.6L921.4,356.4L922.6,356.2L923.9,355.9L925.1,355.7L926.4,355.5L927.6,355.3L928.9,355.0L930.1,354.8L931.4,354.6L932.6,354.4L933.9,354.1L935.1,353.9L936.4,353.7L937.6,353.4L938.9,353.2L940.1,352.9L941.4,352.7L942.6,352.5L943.9,352.2L945.1,352.0L946.3,351.7L947.6,351.5L948.8,351.2L950.1,350.9L951.3,350.7L952.6,350.4L953.8,350.1L955.1,349.9L956.3,349.6L957.6,349.3L958.8,349.0L960.1,348.7L961.3,348.4L962.6,348.1L963.8,347.8L965.1,347.5L966.3,347.2L967.6,346.9L968.8,346.6L970.1,346.2L971.3,345.9L972.6,345.5L973.8,345.2L975.1,344.8L976.3,344.5L977.6,344.1L978.8,343.7L980.1,343.4L981.3,343.0L982.6,342.6L983.8,342.2L985.1,341.8L986.3,341.4L987.6,341.0L988.8,340.5L990.1,340.1L991.3,339.7L992.6,339.2L993.8,338.7L995.1,338.3L996.3,337.8L997.6,337.3L998.8,336.8L1000.1,336.3L1001.3,335.8L1002.6,335.3L1003.8,334.8L1005.1,334.3L1006.3,333.7L1007.6,333.2L1008.8,332.6L1010.1,332.1L1011.3,331.5L1012.6,330.9L1013.8,330.4L1015.1,329.8L1016.3,329.2L1017.6,328.6L1018.8,327.9L1020.1,327.3L1021.3,326.7L1022.6,326.0L1023.8,325.4L1025.1,324.7L1026.3,324.1L1027.6,323.4L1028.8,322.7L1030.1,322.0L1031.3,321.3L1032.6,320.6L1033.8,319.9L1035.1,319.2L1036.3,318.4L1037.6,317.7L1038.8,316.9L1040.1,316.2L1041.3,315.4L1042.6,314.6L1043.8,313.8L1045.1,313.0L1046.3,312.2L1047.6,311.4L1048.8,310.6L1050.1,309.8L1051.1,309.1L1052.1,308.4L1053.1,307.8L1054.1,307.1L1055.1,306.4L1056.1,305.7L1057.1,305.0L1058.1,304.3L1059.1,303.5L1060.1,302.8L1061.1,302.1L1062.1,301.4L1063.1,300.6L1064.1,299.9L1065.1,299.1L1066.1,298.4L1067.1,297.6L1068.1,296.8L1069.1,296.1L1070.1,295.3L1071.1,294.5L1072.1,293.7L1073.1,292.9L1074.1,292.1L1075.1,291.3L1076.1,290.5L1077.1,289.7L1078.1,288.9L1079.1,288.1L1080.1,287.2L1081.1,286.4L1082.1,285.6L1083.1,284.7L1084.1,283.9L1085.1,283.1L1086.1,282.2L1087.1,281.4L1088.1,280.5L1089.1,279.7L1090.0,278.8L1091.0,277.9L1092.0,277.1L1093.0,276.2L1094.0,275.4L1095.0,274.5L1096.0,273.6L1097.0,272.8L1098.0,271.9L1099.0,271.0L1100.0,270.1L1101.0,269.3L1102.0,268.4L1103.0,267.5L1104.0,266.6L1105.0,265.7L1106.0,264.9L1107.0,264.0L1108.0,263.1L1109.0,262.2L1110.0,261.4L1111.0,260.5L1112.0,259.6L1113.0,258.7L1114.0,257.8L1115.0,257.0L1116.0,256.1L1117.0,255.2L1118.0,254.3L1119.0,253.5L1120.0,252.6L1121.0,251.7L1122.0,250.9L1123.0,250.0L1124.0,249.1L1125.0,248.2L1126.0,247.4L1127.0,246.5L1128.0,245.6L1129.0,244.8L1130.0,243.9L1131.0,243.0L1132.0,242.2L1133.0,241.3L1134.0,240.4L1135.0,239.5L1136.0,238.7L1137.0,237.8L1138.0,236.9L1139.0,236.1L1140.0,235.2L1141.0,234.3L1142.0,233.4L1143.0,232.6L1144.0,231.7L1145.0,230.8L1146.0,229.9L1147.0,229.0L1148.0,228.1L1149.0,227.3L1150.0,226.4L1151.0,225.5L1152.0,224.6L1153.0,223.7L1154.0,222.8L1155.0,221.9L1156.0,221.0L1157.0,220.2L1158.0,219.3L1159.0,218.4L1160.0,217.5L1161.0,216.6L1162.0,215.7L1163.0,214.8L1164.0,213.9L1165.0,213.0L1166.0,212.1L1167.0,211.2L1168.0,210.3L1169.0,209.4L1170.0,208.4L1171.0,207.5L1172.0,206.6L1173.0,205.7L1174.0,204.8L1175.0,203.9L1176.0,203.0L1177.0,202.0L1178.0,201.1L1179.0,200.2L1180.0,199.3L1181.0,198.4L1182.0,197.4L1183.0,196.5L1184.0,195.6L1185.0,194.7L1186.0,193.7L1187.0,192.8L1188.0,191.9L1189.0,190.9L1190.0,190.0L1191.0,189.0L1192.0,188.1L1193.0,187.2L1194.0,186.2L1195.0,185.3L1196.0,184.3L1197.0,183.4L1198.0,182.4L1199.0,181.5L1200.0,180.5L1201.0,179.6L1202.0,178.6L1203.0,177.7L1204.0,176.7L1205.0,175.7L1206.0,174.7L1207.0,173.7L1208.0,172.7L1209.0,171.6L1210.0,170.5L1211.0,169.4L1212.0,168.2L1213.0,167.0L1214.0,165.8L1214.8,164.9L1215.5,163.9L1216.3,162.9L1217.0,161.9L1217.8,160.8L1218.5,159.7L1219.3,158.6L1220.0,157.4L1220.8,156.3L1221.5,155.1L1222.3,154.0L1223.0,152.8L1223.8,151.6L1224.5,150.5L1225.3,149.4L1226.0,148.3L1226.8,147.2L1227.5,146.2L1228.3,145.2L1229.0,144.2L1229.8,143.3L1230.8,142.0L1231.8,140.9L1232.8,139.8L1233.8,138.7L1234.5,138.0" stroke="#e8262b" stroke-width="2.5"/>
<path d="M1234.5,138.0L1235.8,138.2L1236.6,140.6L1236.7,143.9L1236.3,145.6L1235.7,147.4L1234.8,149.1L1233.9,150.9L1233.0,152.5L1231.9,154.2L1230.8,155.8L1229.6,157.5L1228.4,159.2L1227.3,160.8L1226.2,162.4L1225.1,164.0L1223.9,165.6L1222.7,167.3L1221.4,168.9L1220.3,170.3L1219.1,171.6L1217.9,173.0L1216.6,174.4L1215.4,175.8L1214.1,177.2L1212.8,178.6L1211.5,180.0L1210.4,181.3L1209.3,182.5L1208.1,183.8L1207.0,185.1L1205.8,186.4L1204.6,187.7L1203.5,189.1L1202.3,190.4L1201.2,191.7L1200.0,193.0L1199.8,193.2L1198.8,194.1L1197.8,195.1L1196.8,196.0L1195.8,196.9L1194.8,197.8L1193.8,198.7L1192.8,199.7L1191.8,200.6L1190.8,201.5L1189.8,202.4L1188.8,203.4L1187.8,204.3L1186.8,205.2L1185.8,206.1L1184.8,207.1L1183.8,208.0L1182.8,208.9L1181.8,209.8L1180.8,210.8L1179.8,211.7L1178.8,212.6L1177.8,213.6L1176.8,214.5L1175.8,215.4L1174.8,216.3L1173.8,217.3L1172.8,218.2L1171.8,219.1L1170.8,220.1L1169.8,221.0L1168.8,221.9L1167.8,222.9L1166.8,223.8L1165.8,224.7L1164.8,225.7L1163.8,226.6L1162.8,227.5L1161.8,228.4L1160.8,229.4L1159.8,230.3L1158.8,231.2L1157.8,232.2L1156.8,233.1L1155.8,234.0L1154.8,234.9L1153.8,235.9L1152.8,236.8L1151.8,237.7L1150.8,238.6L1149.8,239.6L1148.8,240.5L1147.8,241.4L1146.8,242.3L1145.8,243.2L1144.8,244.2L1143.8,245.1L1142.8,246.0L1141.8,246.9L1140.8,247.8L1139.8,248.7L1138.8,249.6L1137.8,250.5L1136.8,251.5L1135.8,252.4L1134.8,253.3L1133.8,254.2L1132.8,255.1L1131.8,256.0L1130.8,256.9L1129.8,257.8L1128.8,258.7L1127.8,259.6L1126.8,260.5L1125.8,261.4L1124.8,262.3L1123.8,263.1L1122.8,264.0L1121.8,264.9L1120.8,265.8L1119.8,266.7L1118.8,267.6L1117.8,268.4L1116.8,269.3L1115.8,270.2L1114.8,271.1L1113.8,271.9L1112.8,272.8L1111.8,273.7L1110.8,274.5L1109.8,275.4L1108.8,276.3L1107.8,277.1L1106.8,278.0L1105.8,278.8L1104.8,279.7L1103.8,280.5L1102.8,281.4L1101.8,282.2L1100.8,283.0L1099.8,283.9L1098.8,284.7L1097.8,285.5L1096.8,286.4L1095.8,287.2L1094.8,288.0L1093.8,288.8L1092.8,289.6L1091.8,290.5L1090.8,291.3L1089.8,292.1L1088.8,292.9L1087.8,293.7L1086.8,294.5L1085.8,295.3L1084.8,296.1L1083.8,296.9L1082.8,297.6L1081.8,298.4L1080.8,299.2L1079.8,300.0L1078.8,300.8L1077.8,301.5L1076.8,302.3L1075.8,303.1L1074.8,303.8L1073.8,304.6L1072.8,305.3L1071.8,306.1L1070.8,306.8L1069.8,307.5L1068.8,308.3L1067.8,309.0L1066.8,309.7L1065.8,310.5L1064.8,311.2L1063.8,311.9L1062.8,312.6L1061.8,313.3L1060.8,314.0L1059.8,314.7L1058.8,315.4L1057.8,316.1L1056.8,316.8L1055.8,317.5L1054.8,318.2L1053.8,318.8L1052.8,319.5L1051.8,320.2L1050.6,321.0L1049.4,321.8L1048.1,322.6L1046.9,323.4L1045.6,324.2L1044.4,325.0L1043.1,325.8L1041.9,326.6L1040.6,327.3L1039.4,328.1L1038.1,328.8L1036.9,329.6L1035.6,330.3L1034.4,331.0L1033.1,331.8L1031.9,332.5L1030.6,333.2L1029.4,333.9L1028.1,334.6L1026.9,335.2L1025.6,335.9L1024.4,336.6L1023.1,337.2L1021.9,337.9L1020.6,338.5L1019.4,339.1L1018.1,339.7L1016.9,340.3L1015.6,340.9L1014.4,341.5L1013.1,342.1L1011.9,342.7L1010.6,343.2L1009.4,343.8L1008.1,344.3L1006.9,344.9L1005.6,345.4L1004.4,345.9L1003.1,346.4L1001.9,346.9L1000.6,347.4L999.4,347.9L998.1,348.4L996.9,348.9L995.6,349.4L994.4,349.8L993.1,350.3L991.9,350.7L990.6,351.1L989.4,351.6L988.1,352.0L986.9,352.4L985.6,352.8L984.4,353.2L983.1,353.6L981.9,354.0L980.6,354.4L979.4,354.8L978.1,355.1L976.9,355.5L975.7,355.9L974.4,356.2L973.2,356.6L971.9,356.9L970.7,357.3L969.4,357.6L968.2,357.9L966.9,358.3L965.7,358.6L964.4,358.9L963.2,359.2L961.9,359.5L960.7,359.8L959.4,360.1L958.2,360.4L956.9,360.7L955.7,361.0L954.4,361.3L953.2,361.6L951.9,361.8L950.7,362.1L949.4,362.4L948.2,362.7L946.9,362.9L945.7,363.2L944.4,363.5L943.2,363.7L941.9,364.0L940.7,364.2L939.4,364.5L938.2,364.7L936.9,365.0L935.7,365.2L934.4,365.5L933.2,365.7L931.9,365.9L930.7,366.2L929.4,366.4L928.2,366.7L926.9,366.9L925.7,367.1L924.4,367.4L923.2,367.6L921.9,367.8L920.7,368.1L919.4,368.3L918.2,368.5L916.9,368.8L915.7,369.0L914.4,369.2L913.2,369.5L911.9,369.7L910.7,369.9L909.4,370.2L908.2,370.4L906.9,370.6L905.7,370.9L904.4,371.1L903.2,371.3L902.0,371.6L900.7,371.8L899.5,372.1L898.2,372.3L897.0,372.6L895.7,372.8L894.5,373.1L893.2,373.3L892.0,373.6L890.7,373.8L889.5,374.1L888.2,374.4L887.0,374.6L885.7,374.9L884.5,375.2L883.2,375.5L882.0,375.7L880.7,376.0L879.5,376.3L878.2,376.6L877.0,376.9L875.7,377.2L874.5,377.5L873.2,377.8L872.0,378.1L870.7,378.4L869.5,378.7L868.2,379.1L867.0,379.4L865.7,379.7L864.5,380.1L863.2,380.4L862.0,380.8L860.7,381.1L859.5,381.5L858.2,381.8L857.0,382.2L855.7,382.6L854.5,383.0L853.2,383.3L852.0,383.7L850.7,384.1L849.5,384.5L848.2,385.0L847.0,385.4L845.7,385.8L844.5,386.2L843.2,386.7L842.0,387.1L840.7,387.6L839.5,388.0L838.2,388.5L837.0,389.0L835.7,389.5L834.5,390.0L833.2,390.5L832.0,391.0L830.7,391.5L829.5,392.0L827.8,392.8L826.1,393.7L824.4,394.5L822.8,395.3L821.2,396.2L819.5,397.2L817.8,398.2L816.2,399.2L814.5,400.5L813.1,401.7L811.6,403.0L810.2,404.5L808.8,405.9L807.5,407.5L806.4,409.0L805.5,410.6L804.7,412.2L804.1,413.9L803.5,415.6L803.0,417.4L802.6,419.1L802.2,420.8L801.8,422.5L801.5,424.3L801.2,426.1L800.9,427.8L800.5,429.5L800.2,431.2L799.8,433.0L799.4,434.7L799.1,436.4L798.8,438.2L798.5,440.1L798.3,442.1L798.0,444.0L797.8,446.0L797.6,448.0L797.4,450.0L795.7,490.0L792.5,584.5" stroke="#e8262b" stroke-width="2.5"/>
</g>
</svg></div></body></html>
